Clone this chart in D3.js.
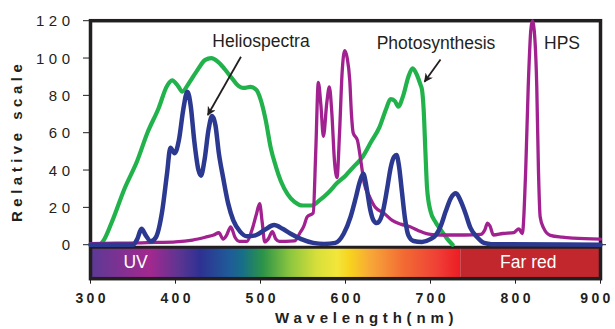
<!DOCTYPE html>
<html>
<head>
<meta charset="utf-8">
<script src="https://cdn.jsdelivr.net/npm/d3@7"></script>
<style>
  body { margin: 0; background: #fff; }
  svg { display: block; font-family: Arial, "Liberation Sans", sans-serif; }
</style>
</head>
<body>
<div id="chart"></div>
<script>
// wavelength (nm) / relative value pairs
var photoNm  = [300,310,315,325,340,355,367,380,390,396,403,408,415,425,435,442,450,458,465,472,480,488,495,500,506,512,518,524,532,540,550,560,570,580,590,600,610,620,630,640,648,653,658,662,668,674,679,684,688,690,692,694,696,700,706,712,720,726];
var photoVal = [0,0,2,12,30,45,60,73,85,88,85,82,86,93,99,100,98,94,90,86,84,84.5,83,78,67,52,42,34,27,23,21,21,24,28,33,37,42,47,55,63,73,78,77,74,80,90,94.5,91,86,83,72,50,30,18,12,8,3,0];

var helioNm  = [300,350,355,360,365,371,377,384,390,394,399,404,409,414,418,422,427,430,434,439,443,447,451,456,462,468,476,484,494,505,516,526,535,548,562,575,588,598,606,612,617,621,625,629,633,637,643,649,653,657,660,663,666,670,674,680,690,700,706,712,718,724,730,735,741,747,755,763,772,900];
var helioVal = [0,0,3,8.5,5,1.8,4,17,38,52,49,56,72,82,74,56,40,37,45,62,69,64,49,36,22,13,7,4.5,5,8,10.5,8.5,6,3,1,0.4,1,6,15,25,34,38,30,19,13,11.6,16,30,41,47,48,42,30,14,5,2,1.5,3,5,10,18,25,27.5,24,17,9,4,1,0.3,0];

var hpsNm  = [300,330,360,380,400,420,435,445,451,456,460,465,470,475,484,490,495,499,502,505,509,514,518,522,530,540,546,551,555,562,565,568,571,574,578,581,584,587,590,593,596,599,602,605,607,609,614,618,622,628,635,645,655,665,676,686,692,700,712,740,759,764,767,770,774,785,798,804,808,812,815,818,820,822,825,827,829,833,841,855,868,900];
var hpsVal = [0.5,0.8,1,1.2,1.5,2.5,4,5.2,6.4,3,5,9.6,4,1.8,1.8,8,16,22,12,1.5,3,7,3,1.8,1.8,2,6,10,15,17,50,87,75,58,76,84.6,70,45,36,60,92,104,100,88,70,60,56,45,33,26,20,17,13,11,9.6,7.5,6.4,5.5,5.2,5.2,5.5,8,11.5,10,5.2,6,6.5,8.5,6,40,85,115,120,115,85,40,15,9,5,4,3.5,3];

var xTicks = [300,400,500,600,700,800,900];
var yTicks = [0,20,40,60,80,100,120];

// text labels and arrows: [label, x nm, y value, arrow from nm, from value, arrow to nm, to value]
var notes = [
  ["Heliospectra", 500.6, 105.9, 477, 100.7, 438, 69.5],
  ["Photosynthesis", 706.5, 104.8, 711.8, 99.2, 693, 87.3],
  ["HPS", 854.7, 104.8]
];
var bandLabels = [["UV", 353], ["Far red", 815]];

// spectrum colours along the bar (nm, colour)
var rainbow = [
  [300,"#5b3a95"],[370,"#a3288f"],[405,"#5b3592"],[429,"#2e3192"],[464,"#1f5c99"],
  [479,"#176f87"],[503,"#2c9448"],[535,"#8dc63f"],[566,"#d6df3a"],[590,"#f3e63a"],
  [605,"#f7d31e"],[629,"#f7a838"],[668,"#f26b33"],[707,"#ef4136"],[735,"#ed1c24"]
];
var farRedStart = 735;

var W = 615, H = 329;
var ink = "#231f20";

var svg = d3.select("#chart").append("svg")
    .attr("width", W)
    .attr("height", H);

var x = d3.scaleLinear().domain([300, 900]).range([90.5, 600.5]);
var y = d3.scaleLinear().domain([0, 120]).range([244.7, 20.7]);

var barTop = y(0) + 2.5, barBottom = 278.7;

// gradient for the spectrum bar
var grad = svg.append("defs").append("linearGradient")
    .attr("id", "spec")
    .attr("gradientUnits", "userSpaceOnUse")
    .attr("x1", x(300)).attr("x2", x(farRedStart))
    .attr("y1", 0).attr("y2", 0);
grad.selectAll("stop")
    .data(rainbow)
    .enter().append("stop")
    .attr("offset", function(d) { return (d[0] - 300) / (farRedStart - 300); })
    .attr("stop-color", function(d) { return d[1]; });

svg.append("rect")
    .attr("x", x(300)).attr("y", barTop)
    .attr("width", x(farRedStart) - x(300))
    .attr("height", barBottom - barTop)
    .attr("fill", "url(#spec)");
svg.append("rect")
    .attr("x", x(farRedStart)).attr("y", barTop)
    .attr("width", x(900) - x(farRedStart))
    .attr("height", barBottom - barTop)
    .attr("fill", "#c1272d");

svg.selectAll(".band")
    .data(bandLabels)
    .enter().append("text")
    .attr("x", function(d) { return x(d[1]); })
    .attr("y", 268.3)
    .attr("text-anchor", "middle")
    .attr("fill", "#fff")
    .style("font-size", "17.5px")
    .text(function(d) { return d[0]; });

// bar top edge
svg.append("line")
    .attr("x1", x(300)).attr("x2", x(900))
    .attr("y1", barTop).attr("y2", barTop)
    .attr("stroke", ink).attr("stroke-width", 3);

// frame
svg.append("rect")
    .attr("x", x(300)).attr("y", y(120))
    .attr("width", x(900) - x(300))
    .attr("height", barBottom - y(120))
    .attr("fill", "none")
    .attr("stroke", ink)
    .attr("stroke-width", 3.5);

// y ticks + labels
svg.selectAll(".ytick")
    .data(yTicks)
    .enter().append("line")
    .attr("x1", 83).attr("x2", 89)
    .attr("y1", function(d) { return y(d); })
    .attr("y2", function(d) { return y(d); })
    .attr("stroke", ink).attr("stroke-width", 1);
svg.append("line")
    .attr("x1", x(900)).attr("x2", 606)
    .attr("y1", y(0)).attr("y2", y(0))
    .attr("stroke", ink).attr("stroke-width", 1);

svg.selectAll(".ylab")
    .data(yTicks)
    .enter().append("text")
    .attr("x", 74.5)
    .attr("y", function(d) { return y(d) + 5.5; })
    .attr("text-anchor", "end")
    .attr("fill", ink)
    .style("font-size", "15px")
    .style("letter-spacing", "4.5px")
    .text(function(d) { return d; });

// x ticks + labels
svg.selectAll(".xtick")
    .data(xTicks)
    .enter().append("line")
    .attr("x1", function(d) { return x(d); })
    .attr("x2", function(d) { return x(d); })
    .attr("y1", barBottom).attr("y2", barBottom + 5)
    .attr("stroke", ink).attr("stroke-width", 1);

// last label is pulled in a little so it stays inside the page
svg.selectAll(".xlab")
    .data(xTicks)
    .enter().append("text")
    .attr("x", function(d) { return Math.min(x(d) + 1.7, 597); })
    .attr("y", 302.7)
    .attr("text-anchor", "middle")
    .attr("fill", ink)
    .style("font-size", "14px")
    .style("font-weight", "bold")
    .style("letter-spacing", "3.4px")
    .text(function(d) { return d; });

// axis titles
svg.append("text")
    .attr("x", 275).attr("y", 323.3)
    .attr("fill", ink)
    .style("font-size", "15px")
    .style("font-weight", "bold")
    .style("letter-spacing", "4.8px")
    .text("Wavelength(nm)");

svg.append("text")
    .attr("transform", "translate(22,222) rotate(-90)")
    .attr("fill", ink)
    .style("font-size", "15px")
    .style("font-weight", "bold")
    .style("letter-spacing", "4.5px")
    .text("Relative scale");

// curves
var line = d3.line()
    .x(function(d) { return x(d[0]); })
    .y(function(d) { return y(d[1]); })
    .curve(d3.curveMonotoneX);

var series = [
  [photoNm, photoVal, "#22b24c", 4.2],
  [hpsNm, hpsVal, "#a0218f", 3.3],
  [helioNm, helioVal, "#2b3990", 4.5]
];
series.forEach(function(s) {
  svg.append("path")
      .datum(d3.zip(s[0], s[1]))
      .attr("d", line)
      .attr("fill", "none")
      .attr("stroke", s[2])
      .attr("stroke-width", s[3])
      .attr("stroke-linejoin", "round")
      .attr("stroke-linecap", "round");
});

// annotations
svg.append("defs").append("marker")
    .attr("id", "head")
    .attr("viewBox", "0 0 10 10")
    .attr("refX", 9).attr("refY", 5)
    .attr("markerWidth", 9).attr("markerHeight", 9)
    .attr("markerUnits", "userSpaceOnUse")
    .attr("orient", "auto")
    .append("path")
    .attr("d", "M0,0 L10,5 L0,10 L3,5 Z")
    .attr("fill", ink);

notes.forEach(function(n) {
  svg.append("text")
      .attr("x", x(n[1])).attr("y", y(n[2]))
      .attr("text-anchor", "middle")
      .attr("fill", ink)
      .style("font-size", "17.5px")
      .text(n[0]);
  if (n.length > 3) {
    svg.append("line")
        .attr("x1", x(n[3])).attr("y1", y(n[4]))
        .attr("x2", x(n[5])).attr("y2", y(n[6]))
        .attr("stroke", ink)
        .attr("stroke-width", 1.8)
        .attr("marker-end", "url(#head)");
  }
});
</script>
</body>
</html>
